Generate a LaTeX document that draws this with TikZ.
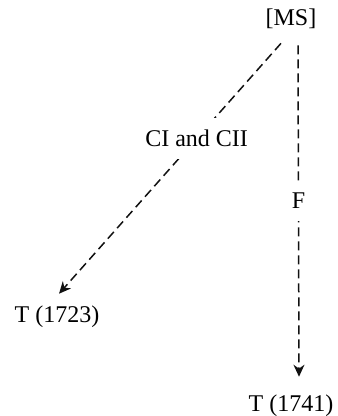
\documentclass[tikz,border=0pt]{standalone}
\usepackage{fontspec}
\setmainfont{Liberation Serif}
\usepackage{xcolor}
\usepackage{tikz}
\usetikzlibrary{arrows.meta,positioning,calc}
\definecolor{ln}{HTML}{111111}
\tikzset{
  witness/.style={font=\fontsize{12}{14}\selectfont, inner sep=1pt},
  descent/.style={draw=ln, line width=0.75pt, dash pattern=on 4.5pt off 2.5pt,
    -{Stealth[length=6pt,width=5.5pt]}},
  lbl/.style={font=\fontsize{12}{14}\selectfont, fill=white, inner xsep=2pt, inner ysep=6pt}
}

\begin{document}
\begin{tikzpicture}[x=0.5pt,y=-0.5pt]
  \useasboundingbox (0,0) rectangle (337,416);
  \node[witness] (ms) at (291,19) {[MS]};
  \node[witness] (t1723) at (57,317) {T (1723)};
  \node[witness] (t1741) at (291,406) {T (1741)};
  \draw[descent] ([xshift=-5pt,yshift=-6pt]ms.south) -- ([xshift=1pt,yshift=5pt]t1723.north)
    node[lbl, pos=0.38] (ci) {CI and CII};
  \draw[descent] ([xshift=3.5pt,yshift=-7pt]ms.south) -- ([xshift=4pt,yshift=8pt]t1741.north)
    node[lbl, pos=0.47] (f) {F};
\end{tikzpicture}
\end{document}
